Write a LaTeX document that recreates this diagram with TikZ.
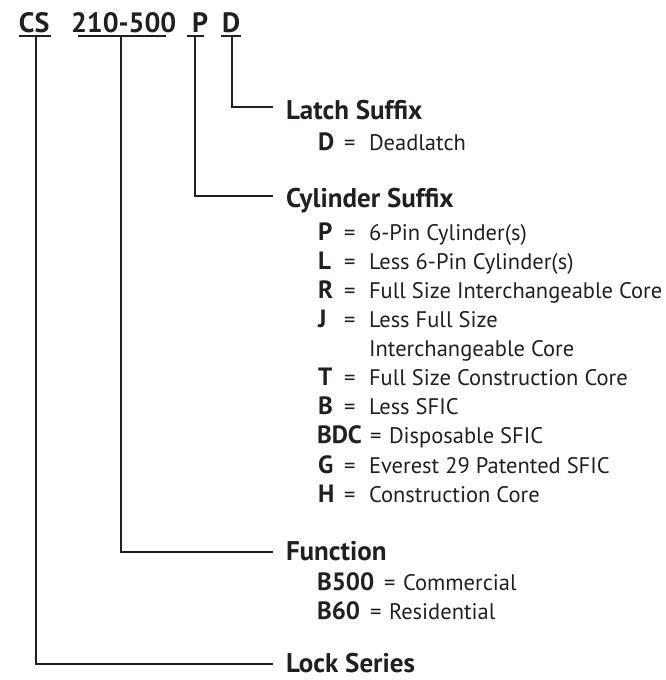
\documentclass[tikz,border=0pt]{standalone}
\usepackage{fontspec}
\setmainfont{PT Sans}
\definecolor{ink}{HTML}{231F20}
\newcommand{\kfont}{\fontsize{25}{25}\selectfont\bfseries}
\newcommand{\bfont}{\fontsize{22.5}{22.5}\selectfont\mdseries}
\begin{document}
\begin{tikzpicture}[x=1pt,y=-1pt,
  every node/.style={inner sep=0pt, outer sep=0pt, text=ink, anchor=base west},
  ttl/.style={font=\fontsize{28}{28}\selectfont\bfseries},
  hdr/.style={font=\fontsize{27}{27}\selectfont\bfseries},
  keyl/.style={font=\kfont},
  body/.style={font=\bfont},
  conn/.style={draw=ink, line width=2pt, line join=miter},
  uline/.style={draw=ink, line width=1.8pt}]
\useasboundingbox (0,0) rectangle (665,680);

% title
\node[ttl] (tCS)  at (19,32)  {CS};
\node[ttl] (t210) at (71,32)  {210-500};
\node[ttl] (tP)   at (192,32) {P};
\node[ttl] (tD)   at (222,32) {D};

% underlines
\coordinate (uCSa) at (19,36);  \coordinate (uCSb) at (51,36);
\coordinate (u210a) at (78,36); \coordinate (u210b) at (166,36);
\coordinate (uPa) at (187,36);  \coordinate (uPb) at (204,36);
\coordinate (uDa) at (221,36);  \coordinate (uDb) at (241,36);
\draw[uline] (uCSa) -- (uCSb);
\draw[uline] (u210a) -- (u210b);
\draw[uline] (uPa) -- (uPb);
\draw[uline] (uDa) -- (uDb);

% stems and line ends
\coordinate (sCS) at (36,36);
\coordinate (s210) at (121,36);
\coordinate (sP) at (195,36);
\coordinate (sD) at (232,36);
\coordinate (eLatch) at (273,107);
\coordinate (eCyl) at (273,196);
\coordinate (eFun) at (273,552);
\coordinate (eLock) at (273,664);
\draw[conn] (sD) |- (eLatch);
\draw[conn] (sP) |- (eCyl);
\draw[conn] (s210) |- (eFun);
\draw[conn] (sCS) |- (eLock);

% headers
\node[hdr] (hLatch) at (286,119) {Latch Suffix};
\node[hdr] (hCyl)   at (286,207) {Cylinder Suffix};
\node[hdr] (hFun)   at (286,560) {Function};
\node[hdr] (hLock)  at (286,672) {Lock Series};

% latch
\node[keyl] (kD) at (318,150) {D};
\node[body] (qD) at (344,150) {=};
\node[body] (vD) at (369,150) {Deadlatch};

% cylinder
\node[keyl] (kP) at (318,240) {P};
\node[body] (qP) at (344,240) {=};
\node[body] (vP) at (369,240) {6-Pin Cylinder(s)};
\node[keyl] (kL) at (318,269) {L};
\node[body] (qL) at (344,269) {=};
\node[body] (vL) at (369,269) {Less 6-Pin Cylinder(s)};
\node[keyl] (kR) at (318,298) {R};
\node[body] (qR) at (344,298) {=};
\node[body] (vR) at (369,298) {Full Size Interchangeable Core};
\node[keyl] (kJ) at (318,327) {J};
\node[body] (qJ) at (344,327) {=};
\node[body] (vJ) at (369,327) {Less Full Size};
\node[body] (vJ2) at (369,356) {Interchangeable Core};
\node[keyl] (kT) at (318,385) {T};
\node[body] (qT) at (344,385) {=};
\node[body] (vT) at (369,385) {Full Size Construction Core};
\node[keyl] (kB) at (318,414) {B};
\node[body] (qB) at (344,414) {=};
\node[body] (vB) at (369,414) {Less SFIC};
\node[keyl] (kBDC) at (317,443) {BDC};
\node[body] (qBDC) at (370,443) {=};
\node[body] (vBDC) at (389,443) {Disposable SFIC};
\node[keyl] (kG) at (318,473) {G};
\node[body] (qG) at (344,473) {=};
\node[body] (vG) at (369,473) {Everest 29 Patented SFIC};
\node[keyl] (kH) at (318,502) {H};
\node[body] (qH) at (344,502) {=};
\node[body] (vH) at (369,502) {Construction Core};

% function
\node[keyl] (kB500) at (317,590) {B500};
\node[body] (qB500) at (384,590) {=};
\node[body] (vB500) at (403,590) {Commercial};
\node[keyl] (kB60) at (317,619) {B60};
\node[body] (qB60) at (370,619) {=};
\node[body] (vB60) at (389,619) {Residential};
\end{tikzpicture}
\end{document}
